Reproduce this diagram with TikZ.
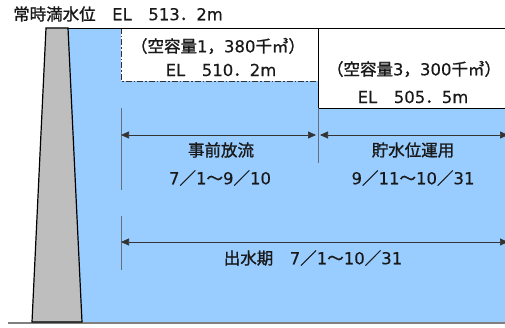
\documentclass[tikz,border=0pt]{standalone}
\usepackage{fontspec}
\setmainfont{Noto Sans CJK JP}[FakeBold=1.3]
\newfontfamily\latinfont{DejaVu Sans}[FakeBold=0.3]
\newcommand\ltn[1]{{\latinfont #1}}
\usetikzlibrary{arrows.meta}
\definecolor{water}{RGB}{153,204,255}
\definecolor{damgray}{RGB}{190,190,190}
\definecolor{dimgray}{RGB}{100,110,125}
\tikzset{
  lbl/.style={inner sep=0pt, font=\fontsize{16.5}{19}\selectfont, text=black!90},
  ttl/.style={lbl},
  ext/.style={draw=dimgray, line width=0.8pt},
  dim/.style={draw=black!80, line width=0.7pt, {Triangle[length=8pt,width=7pt]}-{Triangle[length=8pt,width=7pt]}},
  dashdot/.style={draw=black!80, line width=0.8pt, dash pattern=on 6pt off 2pt on 1.5pt off 2pt}
}
\begin{document}
\begin{tikzpicture}[x=1pt,y=-1pt]
\clip (0,0) rectangle (505,328);
\fill[white] (0,0) rectangle (505,328);
% water
\fill[water] (68,28) rectangle (510,322);
% white empty regions
\fill[white] (121,28) rectangle (318,81);
\fill[white] (318,28) rectangle (510,108);
% region borders
\draw[dashdot] (121,28) -- (121,81) -- (318,81);
\draw[black, line width=0.9pt] (318,28) -- (318,108) -- (510,108);
% top water line
\draw[black, line width=0.9pt] (68,28) -- (510,28);
% ground
\draw[black!50, line width=1.5pt] (8,323) -- (510,323);
% dam
\draw[fill=damgray, line width=1.2pt] (46,28) -- (68,28) -- (82,322) -- (32,322) -- cycle;
% extension lines
\draw[ext] (121,108) -- (121,190);
\draw[ext] (121,216) -- (121,270);
\draw[ext] (318,108) -- (318,163);
% dimension coordinates
\coordinate (a1) at (121,135);
\coordinate (a2) at (316,135);
\coordinate (b1) at (320,135);
\coordinate (b2) at (508,135);
\coordinate (c1) at (121,242);
\coordinate (c2) at (508,242);
\draw[dim] (a1) -- (a2);
\draw[dim] (b1) -- (b2);
\draw[dim] (c1) -- (c2);
% texts
\node[ttl, anchor=west] (title) at (13,14) {常時満水位　\ltn{EL}　\ltn{513}．\ltn{2m}};
\node[lbl] (v1) at (218,46) {（空容量\ltn{1}，\ltn{380}千㎥）};
\node[lbl] (e1) at (221,70) {\ltn{EL}　\ltn{510}．\ltn{2m}};
\node[lbl] (v3) at (414,69) {（空容量\ltn{3}，\ltn{300}千㎥）};
\node[lbl] (e3) at (413,97) {\ltn{EL}　\ltn{505}．\ltn{5m}};
\node[lbl] (p1) at (221,150) {事前放流};
\node[lbl] (d1) at (220,178) {\ltn{7}／\ltn{1}～\ltn{9}／\ltn{10}};
\node[lbl] (p2) at (413,150) {貯水位運用};
\node[lbl] (d2) at (413,178) {\ltn{9}／\ltn{11}～\ltn{10}／\ltn{31}};
\node[lbl] (p3) at (313,258) {出水期　\ltn{7}／\ltn{1}～\ltn{10}／\ltn{31}};
\end{tikzpicture}
\end{document}
